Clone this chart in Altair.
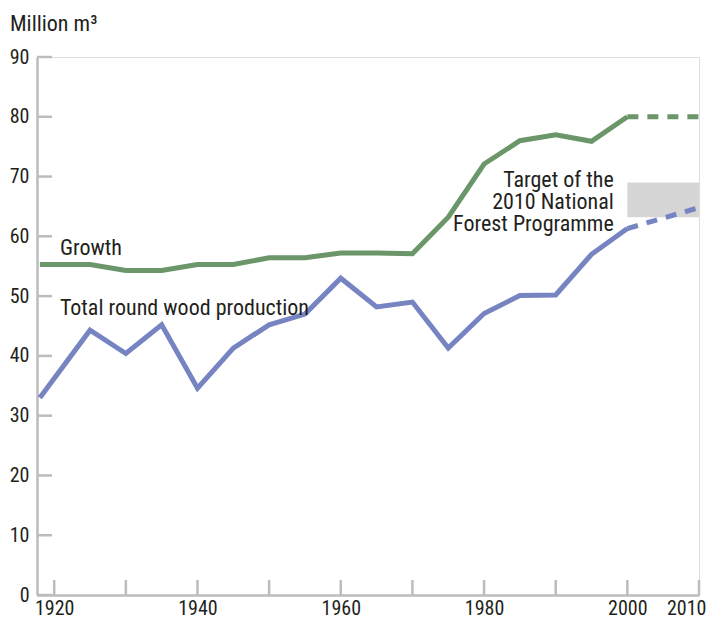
import altair as alt
import pandas as pd

years = [1918, 1925, 1930, 1935, 1940, 1945, 1950, 1955, 1960, 1965, 1970, 1975, 1980, 1985, 1990, 1995, 2000]
growth = [55.3, 55.3, 54.3, 54.3, 55.3, 55.3, 56.4, 56.4, 57.2, 57.2, 57.1, 63.2, 72.1, 76.0, 77.0, 75.9, 80.0]
production = [33.0, 44.3, 40.4, 45.2, 34.6, 41.3, 45.2, 47.0, 53.0, 48.2, 49.0, 41.3, 47.1, 50.1, 50.2, 57.0, 61.3]
proj_years = [2000, 2010]
growth_proj = [80.0, 80.0]
production_proj = [61.3, 64.8]
target_low, target_high = 63.2, 69.0
x_labels = [1920, 1940, 1960, 1980, 2000, 2010]
x_ticks = [1920, 1930, 1940, 1950, 1960, 1970, 1980, 1990, 2000, 2010]
y_ticks = [0, 10, 20, 30, 40, 50, 60, 70, 80, 90]

FONT = "'Roboto Condensed', 'Noto Sans Condensed', 'Liberation Sans Narrow', 'DejaVu Sans Condensed', sans-serif"
GREEN = "#6a9669"
BLUE = "#7784c2"
GRAY = "#bcbcbc"
TXT = "#231f20"
W, H = 662, 538
FS = 20
AFS = 22

xs = alt.Scale(domain=[1917.6, 2010], nice=False, zero=False)
ys = alt.Scale(domain=[0, 90], nice=False)

df = pd.DataFrame({"year": years, "growth": growth, "production": production})
dfp = pd.DataFrame({"year": proj_years, "growth": growth_proj, "production": production_proj})

xaxis = alt.Axis(values=x_labels, format="d", ticks=False, grid=False, domainColor=GRAY,
                 domainWidth=2.5, labelFontSize=FS, labelColor=TXT, labelFont=FONT,
                 labelPadding=3, title=None, labelFlush=True, labelFlushOffset=7)
yaxis = alt.Axis(values=y_ticks, ticks=False, grid=False, domainColor=GRAY, domainWidth=2.5,
                 labelFontSize=FS, labelColor=TXT, labelFont=FONT, labelPadding=8, title=None)

rect = alt.Chart(pd.DataFrame({"x1": [proj_years[0]], "x2": [proj_years[1]],
                               "y1": [target_low], "y2": [target_high]})).mark_rect(color="#d6d6d6").encode(
    x=alt.X("x1:Q", scale=xs, axis=xaxis), x2="x2:Q",
    y=alt.Y("y1:Q", scale=ys, axis=yaxis), y2="y2:Q")

g_line = alt.Chart(df).mark_line(color=GREEN, strokeWidth=5, strokeJoin="miter").encode(
    x=alt.X("year:Q", scale=xs), y=alt.Y("growth:Q", scale=ys))
p_line = alt.Chart(df).mark_line(color=BLUE, strokeWidth=5, strokeJoin="miter").encode(
    x=alt.X("year:Q", scale=xs), y=alt.Y("production:Q", scale=ys))
g_proj = alt.Chart(dfp).mark_line(color=GREEN, strokeWidth=5, strokeDash=[11, 9]).encode(
    x=alt.X("year:Q", scale=xs), y=alt.Y("growth:Q", scale=ys))
p_proj = alt.Chart(dfp).mark_line(color=BLUE, strokeWidth=5, strokeDash=[11, 9]).encode(
    x=alt.X("year:Q", scale=xs), y=alt.Y("production:Q", scale=ys))

ytick_rules = alt.Chart(pd.DataFrame({"v": y_ticks})).mark_rule(color=GRAY, strokeWidth=2.5).encode(
    y=alt.Y("v:Q", scale=ys), x=alt.value(0), x2=alt.value(15))
xtick_rules = alt.Chart(pd.DataFrame({"yr": x_ticks})).mark_rule(color=GRAY, strokeWidth=2.5).encode(
    x=alt.X("yr:Q", scale=xs), y=alt.value(H), y2=alt.value(H - 15))

labels = pd.DataFrame({
    "year": [1920.8, 1920.8, 1998.1],
    "v": [56.8, 46.8, 68.2],
    "txt": ["Growth", "Total round wood production", "Target of the\n2010 National\nForest Programme"],
})
lab_left = alt.Chart(labels.iloc[:2]).mark_text(align="left", baseline="alphabetic", fontSize=AFS,
                                                font=FONT, color=TXT).encode(
    x=alt.X("year:Q", scale=xs), y=alt.Y("v:Q", scale=ys), text="txt:N")
lab_right = alt.Chart(labels.iloc[2:]).mark_text(align="right", baseline="alphabetic", fontSize=AFS,
                                                 font=FONT, color=TXT, lineBreak="\n", lineHeight=22).encode(
    x=alt.X("year:Q", scale=xs), y=alt.Y("v:Q", scale=ys), text="txt:N")

unit = alt.Chart(pd.DataFrame({"t": ["Million m³"]})).mark_text(
    align="left", baseline="alphabetic", fontSize=AFS, font=FONT, color=TXT).encode(
    x=alt.value(-27), y=alt.value(-26), text="t:N")

chart = alt.layer(rect, g_line, p_line, g_proj, p_proj, ytick_rules, xtick_rules,
                  lab_left, lab_right, unit).properties(
    width=W, height=H,
    autosize=alt.AutoSizeParams(type="none"),
    padding={"left": 29, "top": 49, "right": 8, "bottom": 26},
).configure_view(stroke=None).configure(background="white")

chart.save("out.html", embed_options={"renderer": "svg", "actions": False})
